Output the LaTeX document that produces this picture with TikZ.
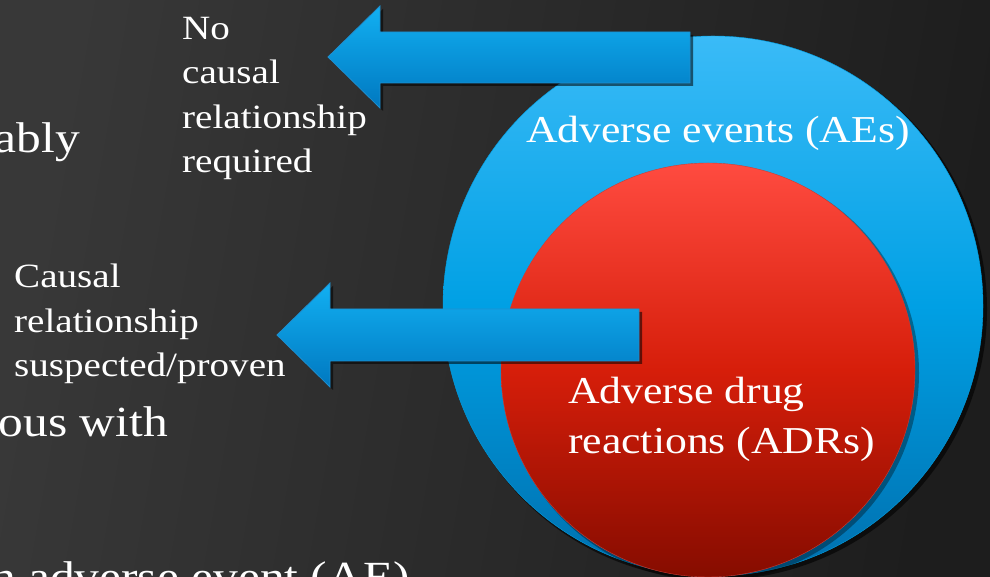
\documentclass[tikz,border=0pt]{standalone}
\usepackage{fontspec}
\setmainfont[FakeStretch=1.15]{Liberation Serif}
\usetikzlibrary{shadows}
\definecolor{bgL}{HTML}{383838}
\definecolor{bgR}{HTML}{1D1D1D}
\definecolor{bluT}{HTML}{3ABBF7}
\definecolor{bluM}{HTML}{00A0E4}
\definecolor{bluB}{HTML}{006FAE}
\definecolor{redT}{HTML}{FF4B40}
\definecolor{redM}{HTML}{D61E0A}
\definecolor{redB}{HTML}{860C00}
\definecolor{arrT}{HTML}{12B0F2}
\definecolor{arrB}{HTML}{0078C0}
\definecolor{arrEdge}{HTML}{1E8FD0}
\tikzset{
  bigarrow/.style={top color=arrT, bottom color=arrB, draw=arrEdge, line width=0.8pt,
    drop shadow={shadow xshift=3pt, shadow yshift=-3pt, opacity=0.55, fill=black}},
  lbl/.style={text=white, font=\fontsize{34}{44.5}\selectfont, align=left, inner sep=0pt},
  inlbl/.style={text=white, font=\fontsize{38}{50}\selectfont, inner sep=0pt},
  bodytxt/.style={text=white, font=\fontsize{43}{52}\selectfont, inner sep=0pt}
}
\begin{document}
\begin{tikzpicture}[x=1pt,y=1pt]
\useasboundingbox (0,0) rectangle (990,577);
\clip (0,0) rectangle (990,577);
% background
\shade[left color=bgL, right color=bgR, shading angle=80] (0,0) rectangle (990,577);
% circles
\fill[black, opacity=0.6] (716,268) circle (271);
\shade[top color=bluT, bottom color=bluB, middle color=bluM, draw=bluM] (713,271) circle (270) node (ae) {};
\fill[black, opacity=0.35] (711,204) circle (208);
\shade[top color=redT, bottom color=redB, middle color=redM, draw=redT!80!black] (708,207) circle (207) node (adr) {};
% arrows
\path[bigarrow] (328,520) -- (380,571) -- (380,545) -- (690,545) -- (690,494) -- (380,494) -- (380,469) -- cycle;
\path[bigarrow] (277,242) -- (330,294) -- (330,268) -- (639,268) -- (639,216) -- (330,216) -- (330,190) -- cycle;
% labels
\node[lbl, anchor=base west] (nocausal) at (182,404) {No\\causal\\relationship\\required};
\node[lbl, anchor=base west] (causal) at (14,200) {Causal\\relationship\\suspected/proven};
\node[inlbl, anchor=base] (aelbl) at (718,434) {Adverse events (AEs)};
\node[inlbl, anchor=base west, align=left] (adrlbl) at (568,123) {Adverse drug\\reactions (ADRs)};
% body text fragments
\node[bodytxt, anchor=base east] (t1) at (80,424) {ably};
\node[bodytxt, anchor=base east] (t2) at (168,140) {ous with};
\node[bodytxt, anchor=base east] (t3) at (410,-15) {n adverse event (AE)};
\end{tikzpicture}
\end{document}
